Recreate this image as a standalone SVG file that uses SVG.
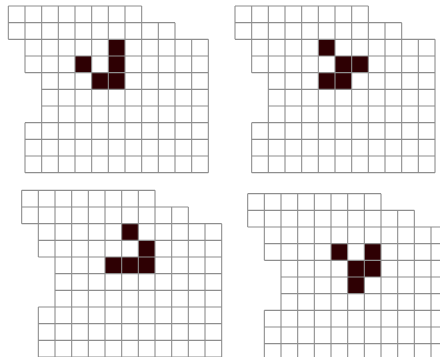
<svg xmlns="http://www.w3.org/2000/svg" xmlns:xlink="http://www.w3.org/1999/xlink" width="440" height="357" viewBox="0 0 440 357">
<style>
.grid{fill:none;stroke:#8e8e8e;stroke-width:1.1;vector-effect:non-scaling-stroke}
.on{fill:#2e0003}
</style>
<defs>
<path id="gridlines" class="grid" d="M0 0H8M0 1H10M0 2H12M1 3H12M1 4H12M2 5H12M2 6H12M1 7H12M1 8H12M1 9H12M1 10H12M0 0V2M1 0V4M1 7V10M2 0V10M3 0V10M4 0V10M5 0V10M6 0V10M7 0V10M8 0V10M9 1V10M10 1V10M11 2V10M12 2V10"/>
</defs>
<rect width="440" height="357" fill="#ffffff"/>
<g id="panel1" transform="translate(8.33 6) scale(16.667)">
<path class="on" d="M6 2h1v3h-2v-1h1zM4 3h1v1h-1z"/>
<use xlink:href="#gridlines"/>
</g>
<g id="panel2" transform="translate(235 6) scale(16.667)">
<path class="on" d="M5 2h1v1h-1zM6 3h2v1h-2zM5 4h2v1h-2z"/>
<use xlink:href="#gridlines"/>
</g>
<g id="panel3" transform="translate(21.67 190.33) scale(16.667)">
<path class="on" d="M6 2h1v1h-1zM7 3h1v2h-3v-1h2z"/>
<use xlink:href="#gridlines"/>
</g>
<g id="panel4" transform="translate(247.67 193.67) scale(16.667)">
<path class="on" d="M5 3h1v1h-1zM7 3h1v2h-1v1h-1v-2h1z"/>
<use xlink:href="#gridlines"/>
</g>
</svg>
